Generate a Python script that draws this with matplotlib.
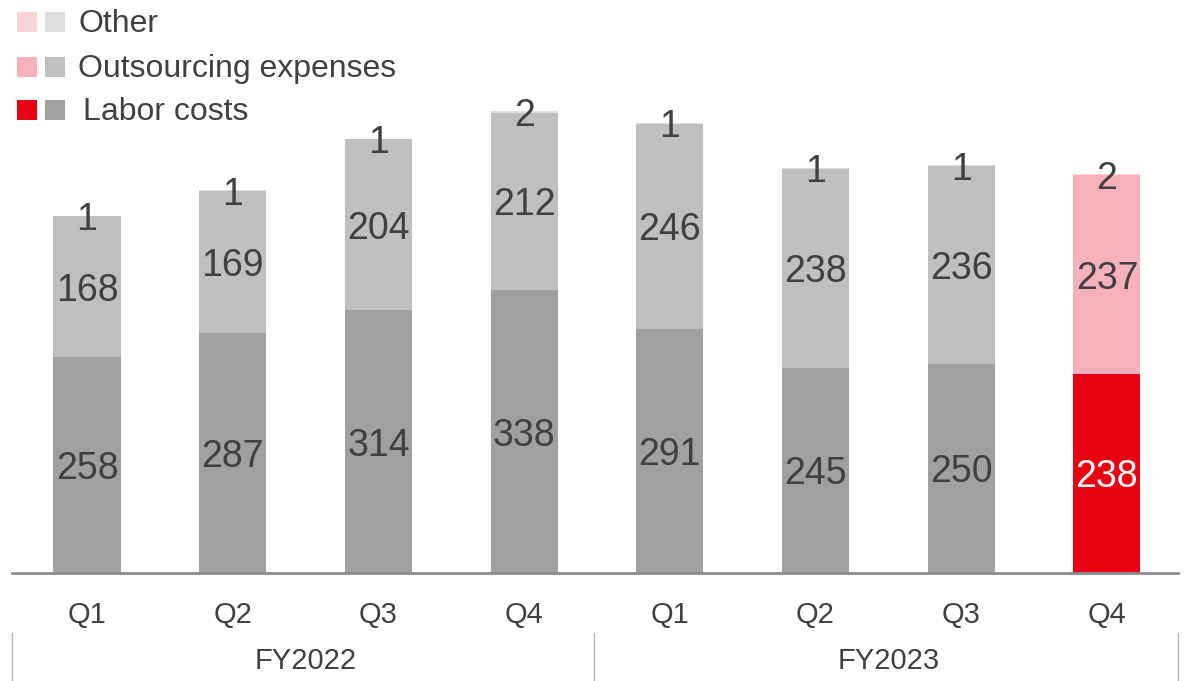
"""
Quarterly cost breakdown (labor / outsourcing / other), FY2022-FY2023.
Output: out.png
"""

import matplotlib
matplotlib.use("Agg")
import matplotlib.pyplot as plt
import numpy as np

quarters = ["Q1", "Q2", "Q3", "Q4", "Q1", "Q2", "Q3", "Q4"]
years = ["FY2022", "FY2023"]
labor = [258, 287, 314, 338, 291, 245, 250, 238]
outsourcing = [168, 169, 204, 212, 246, 238, 236, 237]
other = [1, 1, 1, 2, 1, 1, 1, 2]
highlight = 7  # latest quarter drawn in red

W, H = 1191, 681
TEXT = "#404040"
GREYS = {"labor": "#a0a0a0", "out": "#bfbfbf", "other": "#dedede"}
REDS = {"labor": "#e60012", "out": "#f7b1bb", "other": "#fbd2d6"}

plt.rcParams["font.family"] = ["Liberation Sans", "DejaVu Sans"]


def px(x, y):
    # pixel (from top-left) -> figure fraction
    return x / W, 1 - y / H


fig = plt.figure(figsize=(W / 100, H / 100), dpi=100)

# axes spans x 12..1178 px, baseline at y=573 px, top at y=0
x0, base, x1 = 12, 573, 1178
ax = fig.add_axes([x0 / W, 1 - base / H, (x1 - x0) / W, base / H])

idx = np.arange(len(quarters))
pitch = 145.7
ax.set_xlim((x0 - 87) / pitch, (x1 - 87) / pitch)
ax.set_ylim(0, base / 0.837)

labor_a = np.array(labor)
out_a = np.array(outsourcing)
other_a = np.array(other)

for i in idx:
    pal = REDS if i == highlight else GREYS
    ax.bar(i, labor_a[i], width=0.46, color=pal["labor"], linewidth=0)
    ax.bar(i, out_a[i], bottom=labor_a[i], width=0.46, color=pal["out"], linewidth=0)
    ax.bar(i, other_a[i], bottom=labor_a[i] + out_a[i], width=0.46,
           color=pal["other"], linewidth=0)

    lab_col = "white" if i == highlight else TEXT
    ax.text(i, labor_a[i] / 2, str(labor_a[i]), ha="center", va="center_baseline",
            fontsize=27, color=lab_col)
    ax.text(i, labor_a[i] + out_a[i] / 2, str(out_a[i]), ha="center",
            va="center_baseline", fontsize=27, color=TEXT)
    ax.text(i, labor_a[i] + out_a[i] + other_a[i] / 2, str(other_a[i]),
            ha="center", va="center_baseline", fontsize=27, color=TEXT)

for s in ["top", "right", "left"]:
    ax.spines[s].set_visible(False)
ax.spines["bottom"].set_color("#8c8c8c")
ax.spines["bottom"].set_linewidth(2)
ax.set_yticks([])
ax.set_xticks(idx)
ax.set_xticklabels(quarters, fontsize=21, color=TEXT)
ax.tick_params(axis="x", length=0, pad=20)

# fiscal year groups
for xs in [12, 594, 1178]:
    fig.add_artist(plt.Line2D([xs / W, xs / W], [1 - 633 / H, 0],
                              transform=fig.transFigure, color="#b4b4b4", lw=1))
for k, yr in enumerate(years):
    cx = 87 + pitch * (4 * k + 1.5)
    fig.text(*px(cx, 661), yr, ha="center", va="center", fontsize=21, color=TEXT)

# legend: paired swatches (highlight / regular)
legend_rows = [("Other", "other", 22, 78), ("Outsourcing expenses", "out", 67, 78),
               ("Labor costs", "labor", 110, 83)]
for label, key, yc, tx in legend_rows:
    for sx, pal in [(17, REDS), (45, GREYS)]:
        fx, fy = px(sx, yc + 10)
        fig.add_artist(plt.Rectangle((fx, fy), 20 / W, 20 / H, color=pal[key],
                                     transform=fig.transFigure, lw=0))
    fig.text(*px(tx, yc + 2), label, ha="left", va="center", fontsize=23, color=TEXT)

fig.savefig("out.png", dpi=100)
